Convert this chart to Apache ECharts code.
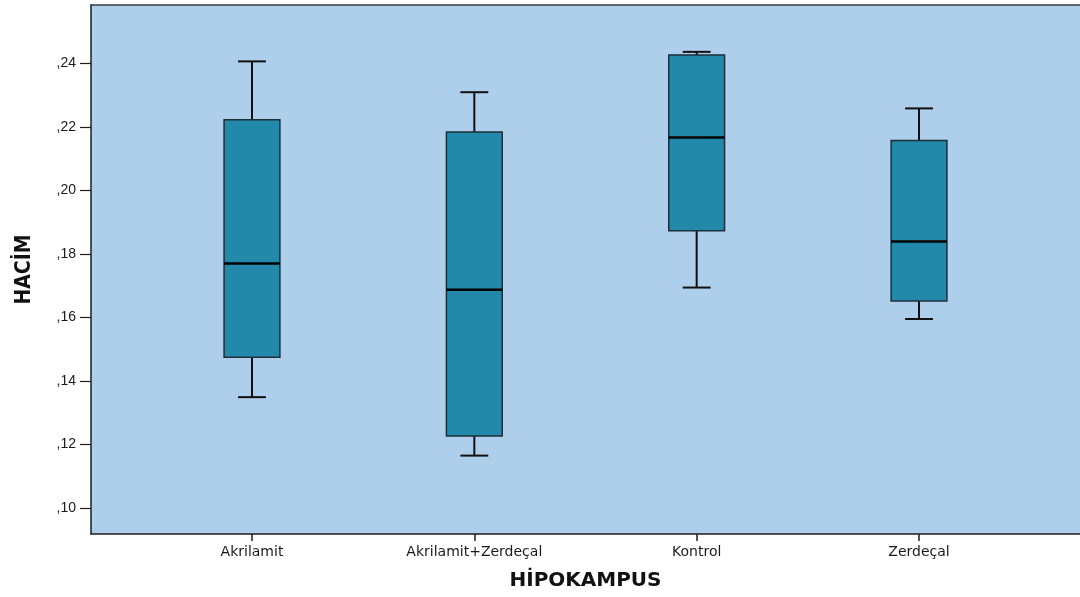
<!DOCTYPE html>
<html>
<head>
<meta charset="utf-8">
<script src="https://cdn.jsdelivr.net/npm/echarts@6/dist/echarts.min.js"></script>
<style>html,body{margin:0;padding:0;background:#fff;}#c{width:1080px;height:597px;}</style>
</head>
<body>
<div id="c"></div>
<script>
const categories = ['Akrilamit', 'Akrilamit+Zerdeçal', 'Kontrol', 'Zerdeçal'];
const mins    = [0.1349, 0.1165, 0.1694, 0.1595];
const q1s     = [0.1475, 0.1227, 0.1873, 0.1652];
const medians = [0.1770, 0.1687, 0.2166, 0.1839];
const q3s     = [0.2222, 0.2184, 0.2426, 0.2157];
const maxs    = [0.2406, 0.2309, 0.2436, 0.2258];
const yTicks  = [0.10, 0.12, 0.14, 0.16, 0.18, 0.20, 0.22, 0.24];
const xName = 'HİPOKAMPUS';
const yName = 'HACİM';

const data = categories.map((c, i) => [i, mins[i], q1s[i], medians[i], q3s[i], maxs[i]]);
const catIdx = categories.map((c, i) => i);

const chart = echarts.init(document.getElementById('c'), null, {renderer: 'canvas'});
const lineColor = '#1e1e1e';
const X_MIN = -0.724, X_MAX = 3.724;
chart.setOption({
  animation: false,
  grid: {
    left: 91, width: 993, top: 5, bottom: 63,
    show: true, backgroundColor: '#AECFEC', borderWidth: 0
  },
  xAxis: [{
    type: 'value', min: X_MIN, max: X_MAX, position: 'bottom',
    splitLine: {show: false},
    axisLine: {show: true, onZero: false, lineStyle: {color: lineColor, width: 1.5}},
    axisTick: {show: true, customValues: catIdx, length: 7, lineStyle: {color: lineColor, width: 1.5}},
    axisLabel: {
      customValues: catIdx, margin: 11,
      formatter: v => categories[Math.round(v)],
      fontFamily: 'DejaVu Sans', fontSize: 14, color: '#1a1a1a'
    },
    name: xName, nameLocation: 'middle', nameGap: 37,
    nameTextStyle: {fontFamily: 'DejaVu Sans', fontWeight: 'bold', fontSize: 20, color: '#111'}
  }, {
    type: 'value', min: X_MIN, max: X_MAX, position: 'top',
    splitLine: {show: false},
    axisLine: {show: true, onZero: false, lineStyle: {color: '#3a3a3a', width: 1.5}},
    axisTick: {show: false},
    axisLabel: {show: false}
  }],
  yAxis: {
    type: 'value', min: 0.09182, max: 0.25835,
    splitLine: {show: false},
    axisLine: {show: true, onZero: false, lineStyle: {color: lineColor, width: 1.5}},
    axisTick: {show: true, customValues: yTicks, length: 11, lineStyle: {color: lineColor, width: 1.2}},
    axisLabel: {
      customValues: yTicks, margin: 15,
      formatter: v => ',' + v.toFixed(2).slice(2),
      fontFamily: 'Liberation Sans', fontSize: 14, color: '#1a1a1a'
    },
    name: yName, nameLocation: 'middle', nameGap: 56, nameRotate: 90,
    nameTextStyle: {fontFamily: "'Liberation Sans Narrow', 'DejaVu Sans Condensed', 'Liberation Sans'", fontWeight: 'bold', fontSize: 21, color: '#111'}
  },
  series: [{
    type: 'custom',
    xAxisIndex: 0,
    data: data,
    encode: {x: 0, y: [1, 2, 3, 4, 5]},
    renderItem: function (params, api) {
      const x = api.value(0);
      const lo = api.coord([x, api.value(1)]);
      const q1 = api.coord([x, api.value(2)]);
      const md = api.coord([x, api.value(3)]);
      const q3 = api.coord([x, api.value(4)]);
      const hi = api.coord([x, api.value(5)]);
      const unit = api.size([1, 0])[0];
      const bw = unit * 0.251;
      const cw = bw / 2;
      const cx = lo[0];
      return {
        type: 'group',
        children: [
          {type: 'line', shape: {x1: cx, y1: q3[1], x2: cx, y2: hi[1]}, style: {stroke: '#111', lineWidth: 2}},
          {type: 'line', shape: {x1: cx, y1: q1[1], x2: cx, y2: lo[1]}, style: {stroke: '#111', lineWidth: 2}},
          {type: 'line', shape: {x1: cx - cw / 2, y1: hi[1], x2: cx + cw / 2, y2: hi[1]}, style: {stroke: '#111', lineWidth: 2}},
          {type: 'line', shape: {x1: cx - cw / 2, y1: lo[1], x2: cx + cw / 2, y2: lo[1]}, style: {stroke: '#111', lineWidth: 2}},
          {type: 'rect', shape: {x: cx - bw / 2, y: q3[1], width: bw, height: q1[1] - q3[1]},
            style: {fill: '#2389AB', stroke: '#1c2f3a', lineWidth: 1.5}},
          {type: 'line', shape: {x1: cx - bw / 2, y1: md[1], x2: cx + bw / 2, y2: md[1]}, style: {stroke: '#000', lineWidth: 2.5}}
        ]
      };
    }
  }]
});
</script>
</body>
</html>
